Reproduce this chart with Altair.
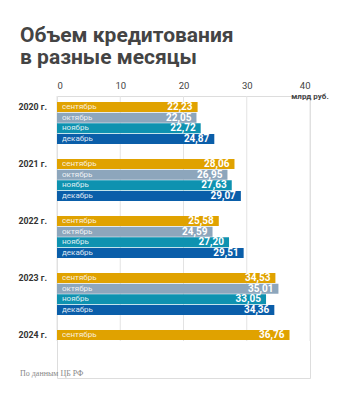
import altair as alt
import pandas as pd

years = ["2020 г.", "2021 г.", "2022 г.", "2023 г.", "2024 г."]
months = ["сентябрь", "октябрь", "ноябрь", "декабрь"]
month_colors = ["#E0A200", "#8DA6BC", "#0E92B0", "#0A5EA9"]
values = {
    "2020 г.": [22.23, 22.05, 22.72, 24.87],
    "2021 г.": [28.06, 26.95, 27.63, 29.07],
    "2022 г.": [25.58, 24.59, 27.20, 29.51],
    "2023 г.": [34.53, 35.01, 33.05, 34.36],
    "2024 г.": [36.76],
}
x_ticks = [0, 10, 20, 30, 40]
unit_label = "млрд руб."
title_lines = ["Объем кредитования", "в разные месяцы"]
source = "По данным ЦБ РФ"

rows = []
for y in years:
    for m, v in zip(months, values[y]):
        rows.append({"year": y, "month": m, "value": v,
                     "label": f"{v:.2f}".replace(".", ",")})
df = pd.DataFrame(rows)
years_df = pd.DataFrame({"year": years, "month": [months[0]] * len(years)})
grid_df = pd.DataFrame({"x": x_ticks})

FONT = "Roboto"
xs = alt.Scale(domain=[0, 40], nice=False)
ys = alt.Scale(domain=years, paddingInner=0.263, paddingOuter=0.105)
yo = alt.Scale(domain=months, paddingInner=0.06)

base = alt.Chart(df)

grid = alt.Chart(grid_df).mark_rule(color="#e3e3e3", strokeWidth=1).encode(
    x=alt.X("x:Q", scale=xs,
            axis=alt.Axis(orient="top", values=x_ticks, ticks=False, domain=False,
                          grid=False, labelFont=FONT, labelFontSize=9.5,
                          labelColor="#444", labelPadding=6, title=None)),
    y=alt.value(0), y2=alt.value(245),
)

bars = base.mark_bar().encode(
    x=alt.X("value:Q", scale=xs),
    y=alt.Y("year:N", scale=ys, axis=None),
    yOffset=alt.YOffset("month:N", scale=yo),
    color=alt.Color("month:N", scale=alt.Scale(domain=months, range=month_colors), legend=None),
)

month_text = base.mark_text(align="left", baseline="middle", font=FONT, fontSize=8,
                            color="white", opacity=0.85).encode(
    x=alt.value(5),
    y=alt.Y("year:N", scale=ys),
    yOffset=alt.YOffset("month:N", scale=yo),
    text="month:N",
)

value_text = base.mark_text(align="right", baseline="middle", dx=-5, font=FONT,
                            fontSize=10, fontWeight="bold", color="white").encode(
    x=alt.X("value:Q", scale=xs),
    y=alt.Y("year:N", scale=ys),
    yOffset=alt.YOffset("month:N", scale=yo),
    text="label:N",
)

year_text = alt.Chart(years_df).mark_text(align="right", baseline="middle", font=FONT,
                                          fontSize=8.8, fontWeight="bold",
                                          color="#333").encode(
    x=alt.value(-10),
    y=alt.Y("year:N", scale=ys),
    yOffset=alt.YOffset("month:N", scale=yo),
    text="year:N",
)

unit_text = alt.Chart(pd.DataFrame({"x": [40], "t": [unit_label]})).mark_text(
    align="center", baseline="middle", font=FONT, fontSize=8, fontWeight="bold",
    color="#444").encode(
    x=alt.X("x:Q", scale=xs), y=alt.value(1), text="t:N")

source_text = alt.Chart(pd.DataFrame({"t": [source]})).mark_text(
    align="left", baseline="middle", font="Liberation Serif", fontSize=8,
    color="#888").encode(x=alt.value(-37), y=alt.value(278), text="t:N")

chart = alt.layer(grid, bars, month_text, value_text, year_text, unit_text, source_text).properties(
    width=253, height=282,
    title=alt.TitleParams(title_lines, anchor="start", frame="group", dx=-37, offset=12,
                          font=FONT, fontSize=21, fontWeight="bold", color="#444",
                          lineHeight=22),
    padding={"left": 57, "top": 96, "right": 42, "bottom": 21},
    autosize=alt.AutoSizeParams(type="none"),
).configure_view(stroke=None).configure(background="white")

chart.save("out.html", embed_options={"renderer": "svg", "actions": False})
